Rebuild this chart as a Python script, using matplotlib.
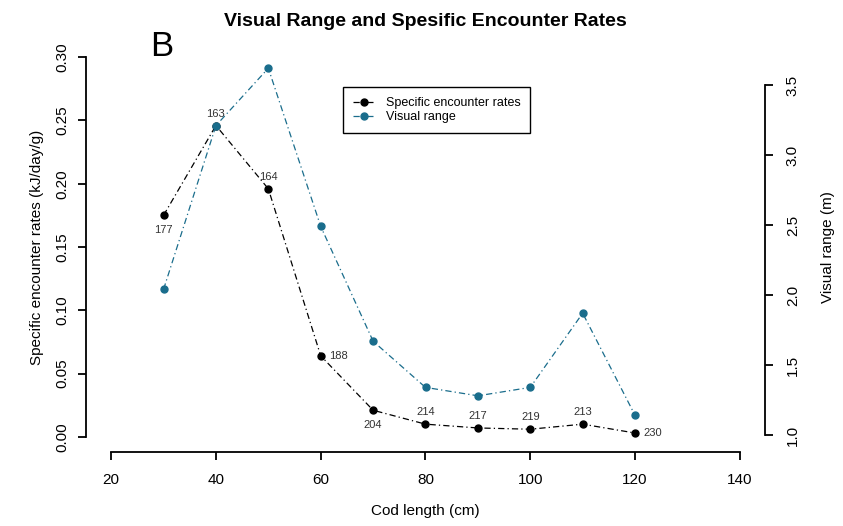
import matplotlib
matplotlib.use('Agg')
import matplotlib.pyplot as plt

plt.rcParams['font.family'] = ['Liberation Sans', 'DejaVu Sans']

cod_length = [30, 40, 50, 60, 70, 80, 90, 100, 110, 120]
encounter_rates = [0.175, 0.246, 0.196, 0.064, 0.021, 0.010, 0.007, 0.006, 0.010, 0.003]
visual_range = [2.04, 3.21, 3.62, 2.49, 1.67, 1.34, 1.28, 1.34, 1.87, 1.14]
point_labels = ['177', '163', '164', '188', '204', '214', '217', '219', '213', '230']
label_pos = ['below', 'above', 'above', 'right', 'below', 'above', 'above', 'above', 'above', 'right']

x_ticks = [20, 40, 60, 80, 100, 120, 140]
left_ticks = [0.00, 0.05, 0.10, 0.15, 0.20, 0.25, 0.30]
right_ticks = [1.0, 1.5, 2.0, 2.5, 3.0, 3.5]

teal = '#1a6d8c'
dotdash = (0, (5, 2.5, 1, 2.5))

W, H = 843, 526
fig = plt.figure(figsize=(W / 100, H / 100), dpi=100)
ax = fig.add_axes([86 / W, (H - 452) / H, (765 - 86) / W, (452 - 42) / H])
ax2 = ax.twinx()

ax.set_xlim(20 - 0.04 * 120, 140 + 0.04 * 120)
ax.set_ylim(-0.012, 0.312)
ax2.set_ylim(1.0 - 17 / 140, 3.5 + 43 / 140)

l1, = ax.plot(cod_length, encounter_rates, color='black', lw=0.9, ls=dotdash,
              marker='o', ms=5, label='Specific encounter rates', zorder=3)
l2, = ax2.plot(cod_length, visual_range, color=teal, lw=0.9, ls=dotdash,
               marker='o', ms=5, label='Visual range', zorder=2)

offsets = {'below': (0, -10, 'center', 'top'), 'above': (0, 7, 'center', 'bottom'),
           'right': (8, 0, 'left', 'center')}
for x, y, t, p in zip(cod_length, encounter_rates, point_labels, label_pos):
    dx, dy, ha, va = offsets[p]
    ax.annotate(t, (x, y), xytext=(dx, dy), textcoords='offset pixels',
                ha=ha, va=va, fontsize=8, color='#333333', zorder=5)

for a in (ax, ax2):
    a.spines['top'].set_visible(False)
    a.patch.set_visible(False)
ax.spines['right'].set_visible(False)
ax2.spines['left'].set_visible(False)
ax2.spines['bottom'].set_visible(False)
ax.spines['left'].set_bounds(0, 0.3)
ax.spines['bottom'].set_bounds(20, 140)
ax2.spines['right'].set_bounds(1.0, 3.5)
for sp in ('left', 'bottom'):
    ax.spines[sp].set_linewidth(1.3)
ax2.spines['right'].set_linewidth(1.3)

ax.set_xticks(x_ticks)
ax.set_yticks(left_ticks)
ax.set_yticklabels([f'{v:.2f}' for v in left_ticks], rotation=90, va='center')
ax2.set_yticks(right_ticks)
ax2.set_yticklabels([f'{v:.1f}' for v in right_ticks], rotation=90, va='center')
ax.tick_params(axis='x', direction='out', length=5.5, width=1.3, labelsize=11, pad=9.5)
ax.tick_params(axis='y', direction='out', length=5.5, width=1.3, labelsize=11, pad=6.5)
ax2.tick_params(axis='y', direction='out', length=5.5, width=1.3, labelsize=11, pad=9.5)

ax.set_xlabel('Cod length (cm)', fontsize=11, labelpad=12)
ax.set_ylabel('Specific encounter rates (kJ/day/g)', fontsize=11, labelpad=8)
ax2.set_ylabel('Visual range (m)', fontsize=11, labelpad=15)

fig.text(425 / W, 1 - 22 / H, 'Visual Range and Spesific Encounter Rates',
         ha='center', va='center', fontsize=14, fontweight='bold')
fig.text(150 / W, 1 - 46 / H, 'B', ha='left', va='center', fontsize=25)

fig.legend(handles=[l1, l2], loc='upper left', bbox_to_anchor=(343 / W, 1 - 87 / H),
           borderaxespad=0, fontsize=9, frameon=True, fancybox=False, edgecolor='black',
           handlelength=1.8, handletextpad=0.8, borderpad=0.8, labelspacing=0.15,
           framealpha=1)

fig.savefig('out.png', dpi=100)
